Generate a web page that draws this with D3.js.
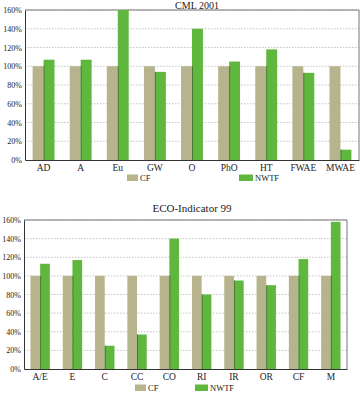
<!DOCTYPE html>
<html>
<head>
<meta charset="utf-8">
<script src="https://cdn.jsdelivr.net/npm/d3@7"></script>
<style>
  body { margin: 0; background: #fff; }
  svg text { font-family: 'Liberation Serif', 'DejaVu Serif', serif !important; fill: #222; }
</style>
</head>
<body>
<div id="chart"></div>
<script>
// Data

var cmlCategories = ['AD', 'A', 'Eu', 'GW', 'O', 'PhO', 'HT', 'FWAE', 'MWAE']
var cmlCF = [100, 100, 100, 100, 100, 100, 100, 100, 100]
var cmlNWTF = [107, 107, 163, 94, 140, 105, 118, 93, 11]

var ecoCategories = ['A/E', 'E', 'C', 'CC', 'CO', 'RI', 'IR', 'OR', 'CF', 'M']
var ecoCF = [100, 100, 100, 100, 100, 100, 100, 100, 100, 100]
var ecoNWTF = [113, 117, 25, 37, 140, 80, 95, 90, 118, 158]

var yTicks = [0, 20, 40, 60, 80, 100, 120, 140, 160]
var seriesNames = ['CF', 'NWTF']

var colors = { CF: '#b6b38d', NWTF: '#5fb73d' }

var svg = d3
  .select('#chart')
  .append('svg')
  .attr('width', 362)
  .attr('height', 394)

// one panel = one bar chart
function drawPanel(opts) {
  var g = svg.append('g')

  var xScale = d3
    .scaleBand()
    .domain(opts.categories)
    .range([opts.left, opts.right])
    .paddingInner(opts.pad)
    .paddingOuter(opts.pad / 2)

  var sub = d3
    .scaleBand()
    .domain(seriesNames)
    .range([0, xScale.bandwidth()])

  var yScale = d3
    .scaleLinear()
    .domain([0, 160])
    .range([opts.bottom, opts.top])

  // gridlines
  g.selectAll('.grid')
    .data(yTicks.slice(1))
    .enter()
    .append('line')
    .attr('x1', opts.left)
    .attr('x2', opts.right)
    .attr('y1', d => yScale(d))
    .attr('y2', d => yScale(d))
    .attr('stroke', '#b5b5b5')
    .attr('stroke-width', 0.8)
    .attr('stroke-dasharray', '1.5,1.5')

  // frame top + right
  g.append('path')
    .attr('d', 'M' + opts.left + ',' + opts.top + 'H' + opts.right + 'V' + opts.bottom)
    .attr('fill', 'none')
    .attr('stroke', '#777')
    .attr('stroke-width', 1)

  var clipId = 'clip-' + opts.id
  g.append('clipPath')
    .attr('id', clipId)
    .append('rect')
    .attr('x', opts.left)
    .attr('y', opts.top)
    .attr('width', opts.right - opts.left)
    .attr('height', opts.bottom - opts.top)

  var rows = opts.categories.map((c, i) => ({
    key: c,
    values: [
      { name: 'CF', value: opts.cf[i] },
      { name: 'NWTF', value: opts.nwtf[i] }
    ]
  }))

  var groups = g
    .append('g')
    .attr('clip-path', 'url(#' + clipId + ')')
    .selectAll('.group')
    .data(rows)
    .enter()
    .append('g')
    .attr('transform', d => 'translate(' + xScale(d.key) + ',0)')

  groups
    .selectAll('rect')
    .data(d => d.values)
    .enter()
    .append('rect')
    .attr('x', d => sub(d.name))
    .attr('y', d => yScale(d.value))
    .attr('width', sub.bandwidth())
    .attr('height', d => yScale(0) - yScale(d.value))
    .attr('fill', d => colors[d.name])

  // dark edge on left of the green bars
  groups
    .append('line')
    .attr('x1', sub('NWTF') + 0.5)
    .attr('x2', sub('NWTF') + 0.5)
    .attr('y1', d => yScale(Math.min(d.values[0].value, d.values[1].value)))
    .attr('y2', yScale(0))
    .attr('stroke', '#4b7a35')
    .attr('stroke-width', 1)

  // axes
  var yAxis = d3
    .axisLeft(yScale)
    .tickValues(yTicks)
    .tickSize(0)
    .tickPadding(3)
    .tickFormat(d => d + '%')

  g.append('g')
    .attr('transform', 'translate(' + opts.left + ',0)')
    .call(yAxis)
    .call(a => a.select('.domain').attr('stroke', '#333'))
    .call(a => a.selectAll('text').attr('font-size', 8).attr('fill', '#222'))

  var xAxis = d3.axisBottom(xScale).tickSize(0).tickPadding(4)

  g.append('g')
    .attr('transform', 'translate(0,' + opts.bottom + ')')
    .call(xAxis)
    .call(a => a.select('.domain').attr('stroke', '#333'))
    .call(a => a.selectAll('text').attr('font-size', 9.5).attr('fill', '#111'))

  // title
  g.append('text')
    .text(opts.title)
    .attr('x', opts.titleX)
    .attr('y', opts.titleY)
    .attr('text-anchor', 'middle')
    .attr('font-size', opts.titleSize)

  // legend
  opts.legend.forEach((l, i) => {
    g.append('rect')
      .attr('x', l.x)
      .attr('y', opts.legendY)
      .attr('width', l.w)
      .attr('height', 6.5)
      .attr('fill', colors[seriesNames[i]])
    g.append('text')
      .text(seriesNames[i])
      .attr('x', l.x + l.w + 2)
      .attr('y', opts.legendY + 6.5)
      .attr('font-size', 8.5)
  })
}

drawPanel({
  id: 'cml',
  categories: cmlCategories,
  cf: cmlCF,
  nwtf: cmlNWTF,
  left: 25,
  right: 359,
  top: 10,
  bottom: 160,
  pad: 0.41,
  title: 'CML 2001',
  titleX: 197,
  titleY: 8.5,
  titleSize: 10,
  legendY: 174.5,
  legend: [{ x: 127, w: 11 }, { x: 239, w: 14 }]
})

drawPanel({
  id: 'eco',
  categories: ecoCategories,
  cf: ecoCF,
  nwtf: ecoNWTF,
  left: 24,
  right: 347,
  top: 220,
  bottom: 369,
  pad: 0.4,
  title: 'ECO-Indicator 99',
  titleX: 192,
  titleY: 212,
  titleSize: 11,
  legendY: 384.5,
  legend: [{ x: 135, w: 11 }, { x: 195, w: 13 }]
})
</script>
</body>
</html>
